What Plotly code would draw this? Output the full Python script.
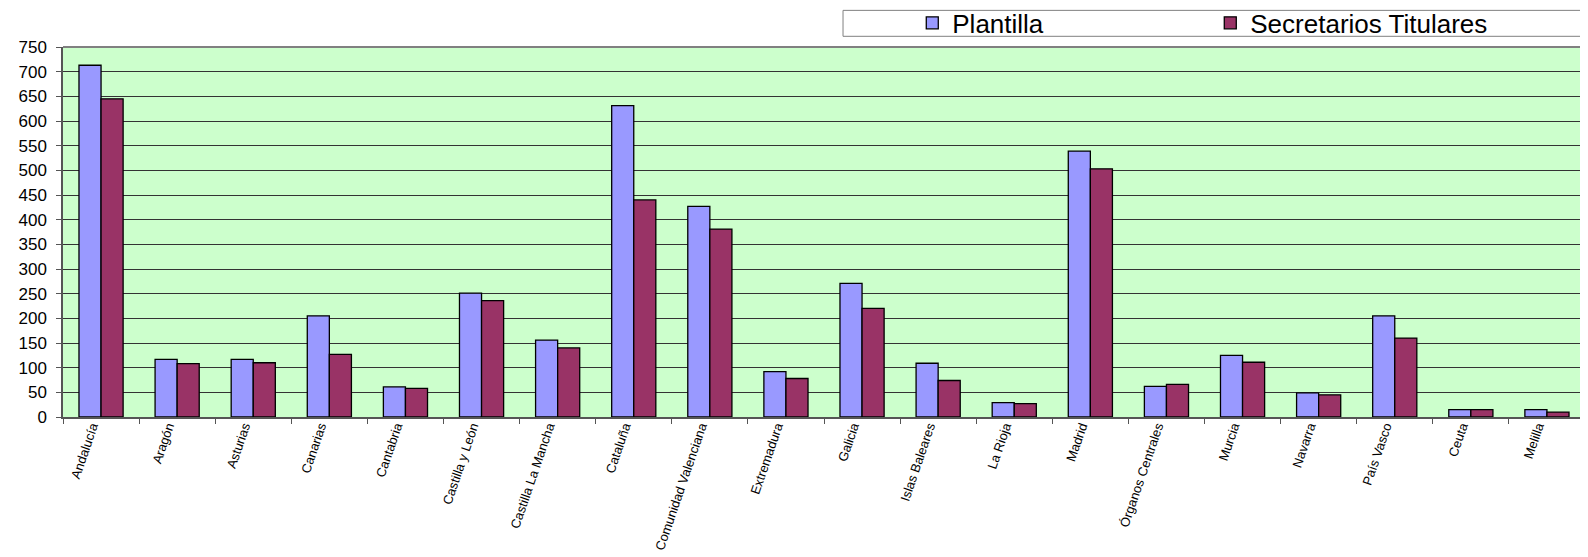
import plotly.graph_objects as go

categories = ["Andalucía", "Aragón", "Asturias", "Canarias", "Cantabria",
              "Castilla y León", "Castilla La Mancha", "Cataluña",
              "Comunidad Valenciana", "Extremadura", "Galicia", "Islas Baleares",
              "La Rioja", "Madrid", "Órganos Centrales", "Murcia", "Navarra",
              "País Vasco", "Ceuta", "Melilla"]
plantilla = [713, 117, 117, 205, 61, 251, 156, 631, 427, 92, 271, 109,
             29, 539, 62, 125, 49, 205, 15, 15]
secretarios = [645, 108, 110, 127, 58, 236, 140, 440, 381, 78, 220, 74,
               27, 503, 66, 111, 45, 160, 15, 10]
y_ticks = list(range(0, 751, 50))

fig = go.Figure()
fig.add_trace(go.Bar(x=categories, y=plantilla, name="Plantilla",
                     marker=dict(color="#9999FF", line=dict(color="#000000", width=1.3))))
fig.add_trace(go.Bar(x=categories, y=secretarios, name="Secretarios Titulares",
                     marker=dict(color="#993366", line=dict(color="#000000", width=1.3))))

fig.update_layout(
    width=1580, height=549,
    margin=dict(l=55, r=3, t=39, b=140, autoexpand=False),
    paper_bgcolor="white",
    plot_bgcolor="#CCFFCC",
    barmode="group",
    bargap=0.42,
    bargroupgap=0,
    font=dict(family="Liberation Sans, Arial, sans-serif", color="#000000"),
    legend=dict(orientation="h", x=0.558, xanchor="left", y=1.065, yanchor="middle",
                font=dict(size=26, family="Liberation Sans, Arial, sans-serif"),
                bgcolor="rgba(0,0,0,0)", borderwidth=0,
                entrywidth=253, entrywidthmode="pixels",
                itemclick=False),
    shapes=[
        dict(type="rect", xref="paper", yref="paper", x0=0.5125, x1=1.02, y0=1.0289, y1=1.099,
             line=dict(color="#808080", width=1), fillcolor="white", layer="below"),
        dict(type="line", xref="paper", yref="paper", x0=0, x1=1, y0=1, y1=1,
             line=dict(color="#808080", width=2)),
    ],
)

fig.update_yaxes(range=[0, 750], tickvals=y_ticks, ticktext=[str(v) for v in y_ticks],
                 showgrid=True, gridcolor="#333333", gridwidth=1,
                 showline=True, linecolor="#555555", linewidth=1.5,
                 ticks="outside", ticklen=5, tickcolor="#555555",
                 tickfont=dict(size=17), ticklabelstandoff=6,
                 zeroline=False, fixedrange=True)
fig.update_xaxes(type="category", tickangle=-71, tickson="boundaries",
                 showline=True, linecolor="#555555", linewidth=1.5,
                 ticks="outside", ticklen=5, tickcolor="#555555",
                 tickfont=dict(size=13), ticklabelshift=-9, ticklabelstandoff=-5,
                 automargin=False, fixedrange=True)

fig.write_html("out.html")
